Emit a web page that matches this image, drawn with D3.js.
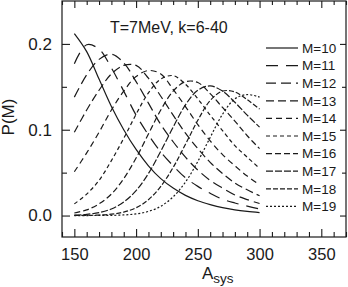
<!DOCTYPE html>
<html>
<head>
<meta charset="utf-8">
<script src="https://cdn.jsdelivr.net/npm/d3@7"></script>
<style>
body { margin: 0; background: #fff; }
svg { display: block; font-family: "Liberation Sans", Arial, sans-serif; }
</style>
</head>
<body>
<svg id="chart" width="348" height="287"></svg>
<script>
// system mass values, one point per 10 units
const aSys = [150, 160, 170, 180, 190, 200, 210, 220, 230, 240, 250, 260, 270, 280, 290, 300];

// P(M), one array per multiplicity
const pM10 = [0.212, 0.191, 0.159, 0.127, 0.100, 0.077, 0.058, 0.043, 0.032, 0.0235, 0.0173, 0.0128, 0.0092, 0.0067, 0.0049, 0.0035];
const pM11 = [0.177, 0.199, 0.194, 0.172, 0.145, 0.117, 0.094, 0.074, 0.058, 0.044, 0.034, 0.026, 0.019, 0.0146, 0.011, 0.0076];
const pM12 = [0.138, 0.164, 0.182, 0.188, 0.178, 0.156, 0.131, 0.106, 0.086, 0.068, 0.053, 0.041, 0.032, 0.024, 0.0186, 0.014];
const pM13 = [0.097, 0.123, 0.146, 0.165, 0.175, 0.175, 0.160, 0.139, 0.117, 0.096, 0.078, 0.062, 0.049, 0.038, 0.030, 0.023];
const pM14 = [0.051, 0.073, 0.097, 0.123, 0.145, 0.162, 0.169, 0.165, 0.147, 0.127, 0.106, 0.087, 0.071, 0.058, 0.046, 0.036];
const pM15 = [0.0136, 0.025, 0.041, 0.064, 0.090, 0.118, 0.143, 0.159, 0.163, 0.153, 0.136, 0.117, 0.099, 0.0815, 0.068, 0.055];
const pM16 = [0.003, 0.0066, 0.0136, 0.025, 0.043, 0.067, 0.095, 0.123, 0.145, 0.156, 0.155, 0.142, 0.126, 0.110, 0.093, 0.078];
const pM17 = [0.0005, 0.0014, 0.0034, 0.0077, 0.0158, 0.029, 0.049, 0.075, 0.103, 0.129, 0.146, 0.151, 0.145, 0.132, 0.117, 0.103];
const pM18 = [0.0001, 0.0002, 0.0006, 0.0016, 0.004, 0.0091, 0.0185, 0.034, 0.056, 0.083, 0.111, 0.134, 0.145, 0.144, 0.135, 0.124];
const pM19 = [0, 0, 0.0001, 0.0002, 0.0007, 0.0019, 0.0048, 0.0108, 0.0218, 0.039, 0.063, 0.091, 0.118, 0.136, 0.141, 0.138];

const seriesNames = ['M=10', 'M=11', 'M=12', 'M=13', 'M=14', 'M=15', 'M=16', 'M=17', 'M=18', 'M=19'];
const seriesValues = [pM10, pM11, pM12, pM13, pM14, pM15, pM16, pM17, pM18, pM19];

const xTicks = [150, 200, 250, 300, 350];
const yTicks = [0, 0.1, 0.2];
const titleText = 'T=7MeV, k=6-40';

// dash pattern per curve, same order as seriesNames
const dashes = [null, '12,8', '10,5', '8,4', '6,4', '4,3', '6,3', '7,2', '5,2', '2,2'];

const svg = d3.select('#chart');
const ink = '#1a1a1a';

const x = d3.scaleLinear().domain([140, 370]).range([62, 346]);
const y = d3.scaleLinear().domain([-0.025, 0.25]).range([237, 1]);

const minorX = d3.range(140, 371, 10).filter(v => v % 50 != 0);
const minorY = [0.05, 0.15];

function styleAxis(g, size) {
    g.select('.domain').remove();
    g.selectAll('line').attr('stroke', ink).attr('stroke-width', 1.1);
    g.selectAll('text').attr('fill', ink).style('font-size', (size || 17) + 'px')
        .style('font-family', '"Liberation Sans", Arial, sans-serif');
}

// bottom
svg.append('g').attr('transform', 'translate(0,237)')
    .call(d3.axisBottom(x).tickValues(xTicks).tickSize(-8).tickPadding(11))
    .call(styleAxis, 16.5);
svg.append('g').attr('transform', 'translate(0,237)')
    .call(d3.axisBottom(x).tickValues(minorX).tickSize(-5).tickFormat(''))
    .call(styleAxis);
// top
svg.append('g').attr('transform', 'translate(0,1)')
    .call(d3.axisTop(x).tickValues(xTicks).tickSize(-7).tickFormat(''))
    .call(styleAxis);
svg.append('g').attr('transform', 'translate(0,1)')
    .call(d3.axisTop(x).tickValues(minorX).tickSize(-4).tickFormat(''))
    .call(styleAxis);
// left
svg.append('g').attr('transform', 'translate(62,0)')
    .call(d3.axisLeft(y).tickValues(yTicks).tickSize(-8).tickPadding(10).tickFormat(d3.format('.1f')))
    .call(styleAxis);
svg.append('g').attr('transform', 'translate(62,0)')
    .call(d3.axisLeft(y).tickValues(minorY).tickSize(-5).tickFormat(''))
    .call(styleAxis);
// right
svg.append('g').attr('transform', 'translate(346,0)')
    .call(d3.axisRight(y).tickValues(yTicks).tickSize(-6).tickFormat(''))
    .call(styleAxis);
svg.append('g').attr('transform', 'translate(346,0)')
    .call(d3.axisRight(y).tickValues(minorY).tickSize(-4).tickFormat(''))
    .call(styleAxis);

svg.append('rect')
    .attr('x', 62).attr('y', 1)
    .attr('width', 284).attr('height', 236)
    .attr('fill', 'none').attr('stroke', ink).attr('stroke-width', 1.2);

const line = d3.line()
    .x((d, i) => x(aSys[i]))
    .y(d => y(d))
    .curve(d3.curveCatmullRom.alpha(0.5));

svg.selectAll('.curve')
    .data(seriesValues)
    .enter()
    .append('path')
    .attr('class', 'curve')
    .attr('d', d => line(d))
    .attr('fill', 'none')
    .attr('stroke', ink)
    .attr('stroke-width', 1.2)
    .attr('stroke-dasharray', (d, i) => dashes[i]);

// legend
const legend = svg.append('g');
seriesNames.forEach((name, i) => {
    let ly = 48 + i * 17.6;
    legend.append('line')
        .attr('x1', 266).attr('x2', 298)
        .attr('y1', ly).attr('y2', ly)
        .attr('stroke', ink).attr('stroke-width', 1.2)
        .attr('stroke-dasharray', dashes[i]);
    legend.append('text')
        .attr('x', 302).attr('y', ly)
        .attr('dy', '0.35em')
        .attr('fill', ink)
        .style('font-size', '13.5px')
        .text(name);
});

svg.append('text')
    .attr('x', 110).attr('y', 33)
    .attr('fill', ink)
    .style('font-size', '16px')
    .text(titleText);

svg.append('text')
    .attr('transform', 'translate(14,117) rotate(-90)')
    .attr('text-anchor', 'middle')
    .attr('fill', ink)
    .style('font-size', '17px')
    .text('P(M)');

const xLabel = svg.append('text')
    .attr('x', 202).attr('y', 279)
    .attr('fill', ink)
    .style('font-size', '17px');
xLabel.append('tspan').text('A');
xLabel.append('tspan').attr('dy', 4).style('font-size', '13.5px').text('sys');
</script>
</body>
</html>
